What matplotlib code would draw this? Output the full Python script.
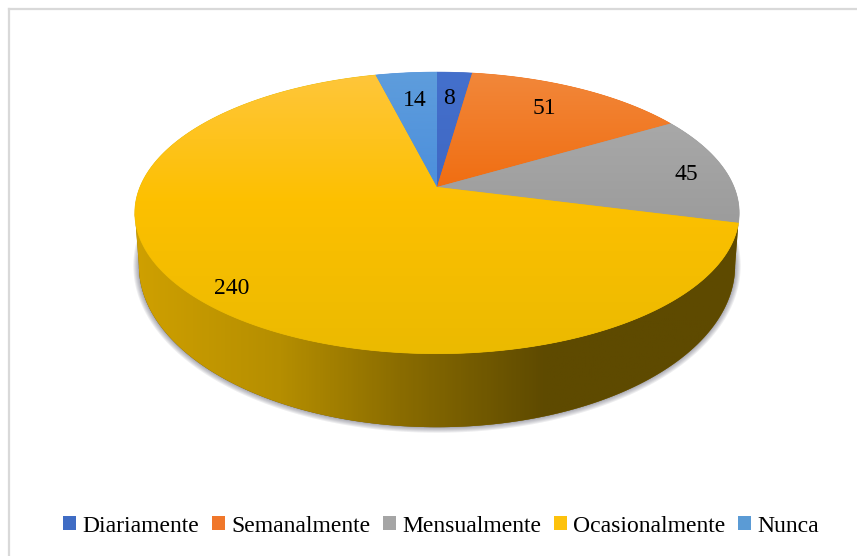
#!/usr/bin/env python3
# 3D-looking pie chart, frecuencia de uso (5 categorias)

import numpy as np
import matplotlib
matplotlib.use("Agg")
import matplotlib.pyplot as plt
from matplotlib.colors import LinearSegmentedColormap
from matplotlib.patches import Patch, Polygon

# -------------------------
# Data
# -------------------------
categories = ["Diariamente", "Semanalmente", "Mensualmente", "Ocasionalmente", "Nunca"]
values = [8, 51, 45, 240, 14]

# top surface colours, upper end -> lower end of the disc
top_colors = [("#4470CC", "#3F68C4"), ("#F2873A", "#F06E12"), ("#A8A8A8", "#9C9C9C"),
              ("#FFC63A", "#EBBA00"), ("#5E9DDC", "#4C8FDC")]
legend_colors = ["#3F6CC4", "#F0772A", "#A5A5A5", "#FDC20C", "#5B9BD5"]
side_stops = ["#CFA000", "#B58E00", "#8A6C00", "#5E4A00", "#5E4A00"]

# label anchors in pixels
label_pos = [(449, 98), (415, 100), (544, 109), (686, 174), (232, 289)]
label_text = ["8", "14", "51", "45", "240"]

# -------------------------
# Disc geometry (perspective circle, pixel coords)
# -------------------------
CX = 437
PERSP = 0.184


def rim(deg, cy, ay, rx):
    # deg runs clockwise from the top of the disc
    a = np.radians(deg)
    s = -np.cos(a)
    d = 1 - PERSP * s
    return np.column_stack([CX + rx * np.sin(a) / d, cy + ay * s / d])


def top_rim(deg):
    return rim(deg, 187, 136, 297)


def low_rim(deg):
    return rim(deg, 236, 156, 293)


fig = plt.figure(figsize=(8.57, 5.56), dpi=100)
ax = fig.add_axes([0, 0, 1, 1])

# -------------------------
# Chart frame (open on the right, cropped in the source)
# -------------------------
ax.plot([9, 9], [556, 9], color="#D9D9D9", lw=1.6, zorder=1)
ax.plot([9, 857], [9, 9], color="#D9D9D9", lw=1.6, zorder=1)

# -------------------------
# Soft shadow under the disc
# -------------------------
low_pts = low_rim(np.linspace(0, 360, 361))
for w in (8, 6.5, 5, 3.5, 2, 1):
    ax.add_patch(Polygon(low_pts, closed=True, fc="#404050", ec="#404050", lw=w,
                         alpha=0.09, joinstyle="round", zorder=2))

# -------------------------
# Side wall
# -------------------------
edges = np.cumsum([0] + values) / sum(values) * 360
wall_start = edges[3]
wall_end = 259.4
side = np.vstack([top_rim(np.linspace(wall_start, wall_end, 200)),
                  low_rim(np.linspace(wall_end, 100.6, 200))])
side_cmap = LinearSegmentedColormap.from_list(
    "side", list(zip([0, 0.24, 0.44, 0.68, 1], side_stops)))
side_patch = Polygon(side, closed=True, fc="#8A6C00", ec="none", zorder=3)
ax.add_patch(side_patch)
im = ax.imshow(np.linspace(0, 1, 300).reshape(1, -1), cmap=side_cmap, aspect="auto",
               extent=(134, 740, 440, 200), zorder=3.1)
im.set_clip_path(side_patch)

# -------------------------
# Top surface, one slice per value
# -------------------------
for i, (start, end) in enumerate(zip(edges[:-1], edges[1:])):
    n = max(int(end - start) * 2, 8)
    pts = np.vstack([[[CX, 187]], top_rim(np.linspace(start, end, n))])
    cmap = LinearSegmentedColormap.from_list(f"w{i}", list(top_colors[i]))
    y0, y1 = pts[:, 1].min(), pts[:, 1].max()
    if i == 3:
        # the big slice is nearly flat in the middle
        cmap = LinearSegmentedColormap.from_list(
            "w3", [(0, "#FFC63A"), (0.45, "#FDC000"), (1, "#EBBA00")])
    patch = Polygon(pts, closed=True, fc=top_colors[i][1], ec=top_colors[i][1], lw=0.5, zorder=4)
    ax.add_patch(patch)
    im = ax.imshow(np.linspace(0, 1, 200).reshape(-1, 1), cmap=cmap, aspect="auto",
                   extent=(130, 745, y1, y0), zorder=4.1)
    im.set_clip_path(patch)

# -------------------------
# Labels and legend
# -------------------------
for (x, y), txt in zip(label_pos, label_text):
    ax.text(x, y, txt, family="Liberation Serif", fontsize=17, color="black",
            ha="center", va="center", zorder=6)

handles = [Patch(fc=c, ec="none") for c in legend_colors]
ax.legend(handles, categories, loc="center", bbox_to_anchor=(441 / 857, 1 - 526 / 556), ncol=5,
          frameon=False, prop={"family": "Liberation Serif", "size": 17},
          handlelength=0.55, handleheight=0.55, handletextpad=0.25, columnspacing=0.55,
          borderpad=0, borderaxespad=0)

ax.set_xlim(0, 857)
ax.set_ylim(556, 0)
ax.axis("off")
fig.savefig("out.png", dpi=100, facecolor="white")
